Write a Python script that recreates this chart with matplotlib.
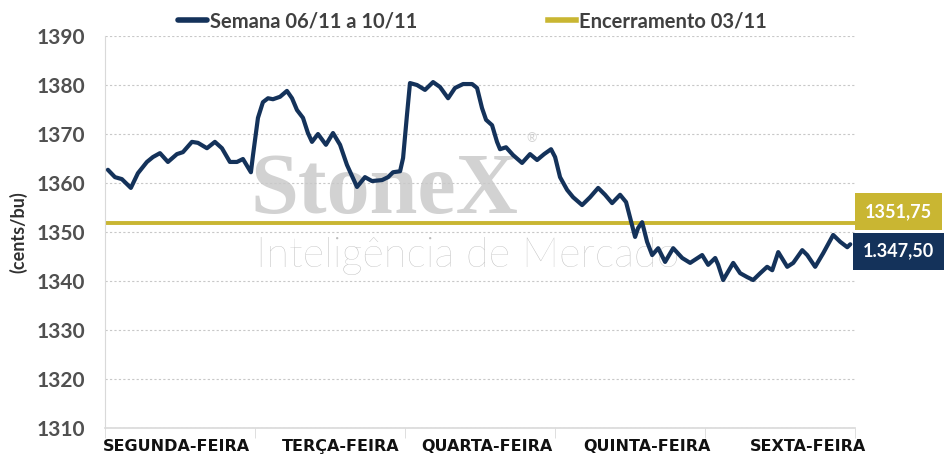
import matplotlib
matplotlib.use("Agg")
import matplotlib.pyplot as plt

# time in days from Monday open, price in cents/bu
t = [0.02, 0.067, 0.113, 0.173, 0.22, 0.28, 0.32, 0.367, 0.42, 0.48, 0.52, 0.58, 0.62, 0.68,
     0.733, 0.78, 0.833, 0.88, 0.92, 0.973, 0.987, 1.02, 1.053, 1.087, 1.12, 1.167, 1.213,
     1.247, 1.28, 1.32, 1.353, 1.38, 1.42, 1.473, 1.52, 1.567, 1.613, 1.68, 1.733, 1.78,
     1.847, 1.887, 1.92, 1.967, 1.987, 2.013, 2.033, 2.08, 2.133, 2.187, 2.233, 2.287, 2.333,
     2.387, 2.447, 2.48, 2.513, 2.54, 2.58, 2.613, 2.633, 2.673, 2.72, 2.78, 2.833, 2.88,
     2.927, 2.973, 3.0, 3.033, 3.08, 3.12, 3.18, 3.233, 3.287, 3.333, 3.38, 3.433, 3.473,
     3.5, 3.533, 3.553, 3.58, 3.613, 3.647, 3.687, 3.733, 3.787, 3.847, 3.9, 3.98, 4.02,
     4.067, 4.087, 4.12, 4.187, 4.233, 4.28, 4.32, 4.367, 4.413, 4.447, 4.487, 4.547, 4.587,
     4.647, 4.68, 4.733, 4.787, 4.853, 4.9, 4.947, 4.967]
price = [1362.7, 1361.2, 1360.8, 1359.0, 1362.0, 1364.3, 1365.3, 1366.1, 1364.3, 1365.9,
         1366.3, 1368.4, 1368.2, 1367.1, 1368.4, 1367.1, 1364.3, 1364.3, 1364.9, 1362.2,
         1365.7, 1373.3, 1376.5, 1377.3, 1377.1, 1377.6, 1378.8, 1377.3, 1374.9, 1373.3,
         1370.2, 1368.4, 1370.0, 1367.8, 1370.2, 1367.8, 1363.7, 1359.2, 1361.2, 1360.4,
         1360.6, 1361.2, 1362.2, 1362.4, 1365.1, 1373.9, 1380.4, 1380.0, 1379.0, 1380.6,
         1379.6, 1377.3, 1379.4, 1380.2, 1380.2, 1379.4, 1375.3, 1372.9, 1371.8, 1368.4,
         1366.9, 1367.3, 1365.7, 1364.1, 1365.9, 1364.7, 1365.9, 1366.9, 1365.3, 1361.2,
         1358.6, 1357.1, 1355.5, 1357.1, 1359.0, 1357.6, 1355.9, 1357.6, 1356.1, 1352.9,
         1349.0, 1350.8, 1352.0, 1348.0, 1345.3, 1346.7, 1343.9, 1346.7, 1344.7, 1343.7,
         1345.3, 1343.3, 1344.7, 1343.3, 1340.2, 1343.7, 1341.6, 1340.8, 1340.2, 1341.6,
         1342.9, 1342.2, 1345.9, 1342.9, 1343.7, 1346.3, 1345.3, 1342.9, 1345.7, 1349.4,
         1348.0, 1346.9, 1347.5]
close_prev = 1351.75
last_label = "1.347,50"
close_label = "1351,75"
days = ["SEGUNDA-FEIRA", "TERÇA-FEIRA", "QUARTA-FEIRA", "QUINTA-FEIRA", "SEXTA-FEIRA"]
day_label_pos = [0.48, 1.573, 2.547, 3.613, 4.687]
yticks = list(range(1310, 1391, 10))

navy = "#14325a"
gold = "#c9b632"

plt.rcParams['font.family'] = ['Lato', 'DejaVu Sans']

fig = plt.figure(figsize=(9.45, 4.66), dpi=100)
ax = fig.add_axes([0.111, 0.0815, 0.794, 0.8412])

# watermark
ax.text(0.373, 0.60, "StoneX", transform=ax.transAxes, ha="center", va="center",
        fontsize=62, fontweight="bold", family=["Liberation Serif", "DejaVu Serif"],
        color="#d2d2d2", zorder=0)
ax.text(0.568, 0.74, "®", transform=ax.transAxes, ha="center", va="center",
        fontsize=9, color="#d2d2d2", zorder=0)
ax.text(0.483, 0.44, "Inteligência de Mercado", transform=ax.transAxes, ha="center",
        va="center", fontsize=30, fontweight="light", color="#bcbcbc", zorder=0)

ax.plot(t, price, color=navy, lw=3.0, solid_joinstyle="round", solid_capstyle="round",
        label="Semana 06/11 a 10/11", zorder=3)
ax.plot([0, 5], [close_prev, close_prev], color=gold, lw=2.8, label="Encerramento 03/11",
        zorder=2)

ax.set_xlim(0, 5)
ax.set_ylim(1310, 1390)
ax.set_yticks(yticks)
ax.grid(axis="y", color="#c8c8c8", linestyle=(0, (2, 2)), lw=0.8)
ax.set_axisbelow(True)

for s in ["top", "right"]:
    ax.spines[s].set_visible(False)
ax.spines["left"].set_color("#d9d9d9")
ax.spines["bottom"].set_color("#d9d9d9")
ax.spines["bottom"].set_linewidth(1.2)

ax.set_xticks(day_label_pos)
ax.set_xticklabels(days, fontsize=11.5, fontweight="bold",
                   family=["Liberation Sans Narrow", "DejaVu Sans"], color="#111111")
ax.tick_params(axis="x", length=0, pad=8)
ax.set_xticks(range(6), minor=True)
ax.tick_params(axis="x", which="minor", length=7, color="#d9d9d9")
ax.tick_params(axis="y", length=0, labelsize=15, labelcolor="#505050", pad=14)
for lbl in ax.get_yticklabels():
    lbl.set_fontweight("bold")

ax.set_ylabel("(cents/bu)", fontsize=13, fontweight="bold", color="#303030", labelpad=7)

# end labels
ax.annotate(close_label, xy=(1.0, close_prev), xycoords=("axes fraction", "data"),
            xytext=(31, 8.5), textcoords="offset points", ha="center", va="center",
            fontsize=13, fontweight="bold", color="white",
            bbox=dict(boxstyle="square,pad=0.55", fc=gold, ec="none"))
ax.annotate(last_label, xy=(1.0, price[-1]), xycoords=("axes fraction", "data"),
            xytext=(31, -5), textcoords="offset points", ha="center", va="center",
            fontsize=13, fontweight="bold", color="white",
            bbox=dict(boxstyle="square,pad=0.55", fc=navy, ec="none"))

leg = fig.legend(loc="upper center", bbox_to_anchor=(0.5, 1.015), ncol=2, frameon=False,
                 fontsize=14.5, handlelength=1.4, handletextpad=0.15, columnspacing=6.5)
for txt in leg.get_texts():
    txt.set_fontweight("bold")
    txt.set_color("#404040")
for h in leg.get_lines():
    h.set_linewidth(4)

fig.savefig("out.png", dpi=100)
